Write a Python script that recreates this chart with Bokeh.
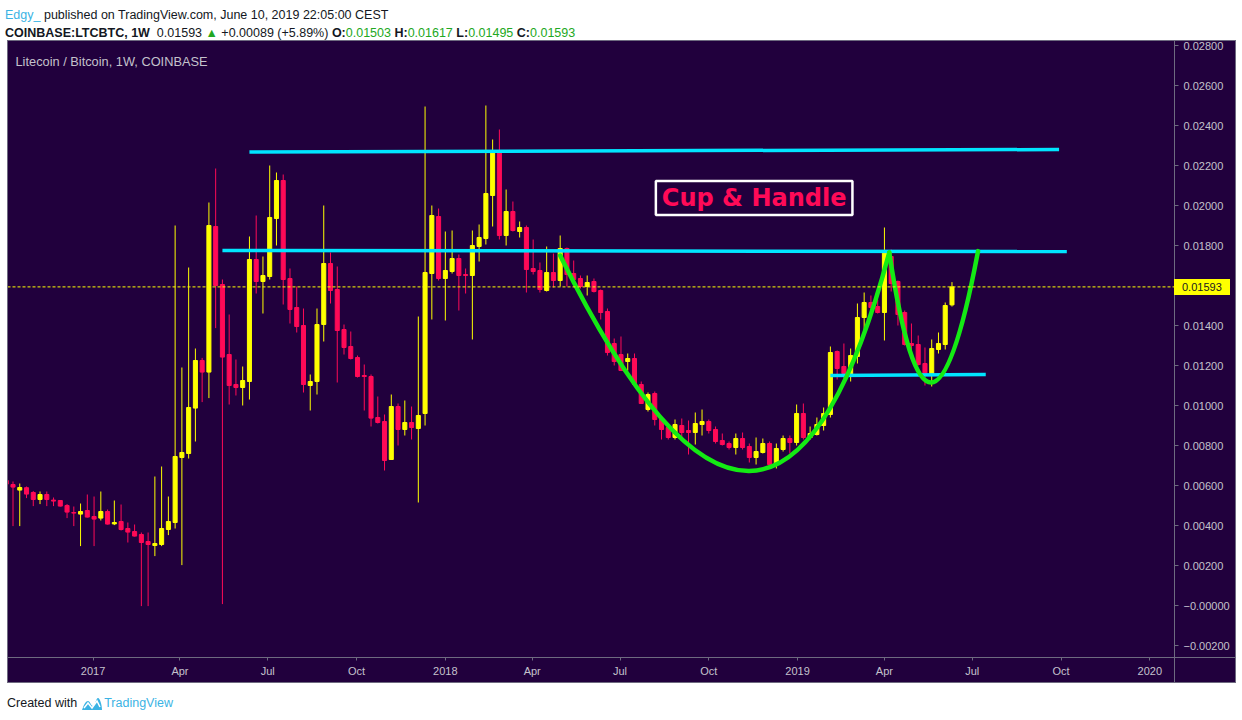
import pandas as pd
from bokeh.plotting import figure
from bokeh.models import (ColumnDataSource, Range1d, FixedTicker, CustomJSTickFormatter,
                          Label, Span, Div, Spacer)
from bokeh.layouts import column, row
from bokeh.embed import file_html
from bokeh.resources import INLINE

# ---------------- data (weekly candles, COINBASE:LTCBTC) ----------------
first_week = "2016-10-03"

opens = [
    0.00625,
    0.00605, 0.00577, 0.00589, 0.00565, 0.00530, 0.00555, 0.00527, 0.00525, 0.00500, 0.00465,
    0.00457, 0.00475, 0.00445, 0.00437, 0.00470, 0.00408, 0.00420, 0.00385, 0.00370, 0.00355,
    0.00320, 0.00300, 0.00305, 0.00380, 0.00415, 0.00740, 0.00760, 0.00987, 0.01225, 0.01167,
    0.01895, 0.01605, 0.01255, 0.01105, 0.01090, 0.01120, 0.01730, 0.01620, 0.01645, 0.01935,
    0.02125, 0.01635, 0.01490, 0.01400, 0.01100, 0.01120, 0.01405, 0.01710, 0.01580, 0.01380,
    0.01295, 0.01240, 0.01150, 0.01145, 0.00940, 0.00920, 0.00730, 0.00995, 0.00880, 0.00915,
    0.00885, 0.00960, 0.01660, 0.01945, 0.01635, 0.01670, 0.01735, 0.01655, 0.01650, 0.01795,
    0.01835, 0.02050, 0.02270, 0.01850, 0.01970, 0.01870, 0.01890, 0.01685, 0.01675, 0.01575,
    0.01665, 0.01625, 0.01785, 0.01660, 0.01635, 0.01595, 0.01620, 0.01575, 0.01470, 0.01310,
    0.01255, 0.01220, 0.01235, 0.01105, 0.00980, 0.01060, 0.00935, 0.00890, 0.00840, 0.00900,
    0.00875, 0.00865, 0.00905, 0.00920, 0.00880, 0.00825, 0.00810, 0.00790, 0.00835, 0.00795,
    0.00740, 0.00765, 0.00810, 0.00710, 0.00780, 0.00835, 0.00815, 0.00960, 0.00840, 0.00855,
    0.00900, 0.00955, 0.01270, 0.01195, 0.01150, 0.01245, 0.01440, 0.01515, 0.01495, 0.01465,
    0.01745, 0.01620, 0.01465, 0.01310, 0.01305, 0.01210, 0.01155, 0.01280, 0.01305, 0.01503,
]
highs = [
    0.00630,
    0.00620, 0.00610, 0.00595, 0.00572, 0.00570, 0.00570, 0.00540, 0.00527, 0.00507, 0.00495,
    0.00510, 0.00555, 0.00545, 0.00570, 0.00480, 0.00525, 0.00505, 0.00415, 0.00405, 0.00365,
    0.00365, 0.00645, 0.00695, 0.00545, 0.01900, 0.01190, 0.01690, 0.01285, 0.01238, 0.02015,
    0.02185, 0.01630, 0.01455, 0.01230, 0.01195, 0.01845, 0.01950, 0.01745, 0.02200, 0.02165,
    0.02155, 0.01685, 0.01595, 0.01485, 0.01155, 0.01485, 0.02000, 0.01765, 0.01695, 0.01405,
    0.01370, 0.01250, 0.01205, 0.01155, 0.01045, 0.00955, 0.01055, 0.01010, 0.01025, 0.00995,
    0.01445, 0.02495, 0.02000, 0.01985, 0.01870, 0.01875, 0.01755, 0.01685, 0.01875, 0.01905,
    0.02500, 0.02330, 0.02380, 0.02080, 0.02020, 0.01920, 0.01900, 0.01830, 0.01715, 0.01795,
    0.01760, 0.01850, 0.01790, 0.01725, 0.01650, 0.01650, 0.01635, 0.01580, 0.01485, 0.01335,
    0.01345, 0.01260, 0.01260, 0.01120, 0.01065, 0.01070, 0.00940, 0.00910, 0.00930, 0.00935,
    0.00925, 0.00965, 0.00980, 0.00930, 0.00895, 0.00860, 0.00820, 0.00860, 0.00865, 0.00810,
    0.00840, 0.00835, 0.00820, 0.00810, 0.00850, 0.00850, 0.01005, 0.01010, 0.00895, 0.00940,
    0.00990, 0.01295, 0.01275, 0.01310, 0.01285, 0.01510, 0.01565, 0.01550, 0.01530, 0.01890,
    0.01780, 0.01625, 0.01475, 0.01410, 0.01350, 0.01290, 0.01330, 0.01365, 0.01515, 0.01617,
]
lows = [
    0.00600,
    0.00397, 0.00397, 0.00537, 0.00497, 0.00507, 0.00497, 0.00497, 0.00495, 0.00437, 0.00397,
    0.00297, 0.00440, 0.00297, 0.00425, 0.00405, 0.00402, 0.00375, 0.00315, 0.00345, -0.00003,
    -0.00003, 0.00247, 0.00297, 0.00352, 0.00385, 0.00202, 0.00735, 0.00820, 0.01017, 0.01037,
    0.01387, 0.00007, 0.01005, 0.01050, 0.01000, 0.01030, 0.01560, 0.01460, 0.01630, 0.01800,
    0.01505, 0.01410, 0.01365, 0.01065, 0.00975, 0.01055, 0.01320, 0.01510, 0.01115, 0.01255,
    0.01230, 0.01140, 0.00975, 0.00895, 0.00910, 0.00675, 0.00730, 0.00800, 0.00850, 0.00830,
    0.00515, 0.00900, 0.01430, 0.01625, 0.01425, 0.01660, 0.01475, 0.01560, 0.01330, 0.01720,
    0.01805, 0.01895, 0.01830, 0.01800, 0.01870, 0.01840, 0.01565, 0.01655, 0.01565, 0.01570,
    0.01590, 0.01595, 0.01595, 0.01595, 0.01585, 0.01550, 0.01565, 0.01430, 0.01250, 0.01200,
    0.01175, 0.01175, 0.01100, 0.01010, 0.00970, 0.00900, 0.00830, 0.00830, 0.00830, 0.00840,
    0.00755, 0.00805, 0.00850, 0.00860, 0.00810, 0.00800, 0.00780, 0.00755, 0.00780, 0.00715,
    0.00705, 0.00760, 0.00695, 0.00685, 0.00770, 0.00760, 0.00800, 0.00830, 0.00830, 0.00850,
    0.00875, 0.00940, 0.01130, 0.01130, 0.01120, 0.01210, 0.01370, 0.01475, 0.01460, 0.01325,
    0.01570, 0.01400, 0.01300, 0.01250, 0.01200, 0.01100, 0.01095, 0.01260, 0.01280, 0.01495,
]
closes = [
    0.00607,
    0.00592, 0.00590, 0.00557, 0.00530, 0.00555, 0.00530, 0.00522, 0.00497, 0.00467, 0.00462,
    0.00470, 0.00442, 0.00432, 0.00470, 0.00407, 0.00415, 0.00380, 0.00367, 0.00347, 0.00315,
    0.00305, 0.00310, 0.00385, 0.00420, 0.00745, 0.00765, 0.00990, 0.01225, 0.01167, 0.01900,
    0.01600, 0.01242, 0.01100, 0.01090, 0.01125, 0.01730, 0.01620, 0.01650, 0.01940, 0.02125,
    0.01630, 0.01480, 0.01395, 0.01105, 0.01120, 0.01405, 0.01710, 0.01575, 0.01375, 0.01290,
    0.01235, 0.01145, 0.01145, 0.00937, 0.00915, 0.00725, 0.00995, 0.00880, 0.00915, 0.00890,
    0.00950, 0.01665, 0.01950, 0.01635, 0.01675, 0.01735, 0.01650, 0.01650, 0.01800, 0.01840,
    0.02060, 0.02270, 0.01850, 0.01970, 0.01875, 0.01890, 0.01680, 0.01670, 0.01580, 0.01665,
    0.01625, 0.01785, 0.01655, 0.01630, 0.01595, 0.01615, 0.01570, 0.01465, 0.01265, 0.01220,
    0.01175, 0.01235, 0.01105, 0.01010, 0.01055, 0.00930, 0.00880, 0.00840, 0.00905, 0.00865,
    0.00865, 0.00910, 0.00920, 0.00875, 0.00820, 0.00805, 0.00790, 0.00835, 0.00790, 0.00740,
    0.00770, 0.00810, 0.00705, 0.00785, 0.00835, 0.00815, 0.00960, 0.00840, 0.00860, 0.00905,
    0.00960, 0.01265, 0.01185, 0.01160, 0.01250, 0.01440, 0.01515, 0.01490, 0.01465, 0.01765,
    0.01610, 0.01455, 0.01305, 0.01300, 0.01205, 0.01155, 0.01285, 0.01310, 0.01500, 0.01593,
]

last_price = 0.01593
price_ticks = [-0.002, 0.0, 0.002, 0.004, 0.006, 0.008, 0.010, 0.012, 0.014,
               0.016, 0.018, 0.020, 0.022, 0.024, 0.026, 0.028]
time_ticks = ["2017-01-01", "2017-04-01", "2017-07-01", "2017-10-01",
              "2018-01-01", "2018-04-01", "2018-07-01", "2018-10-01",
              "2019-01-01", "2019-04-01", "2019-07-01", "2019-10-01", "2020-01-01"]

# drawn trend lines (cyan)
hline_x0 = ["2017-06-12", "2017-05-15", "2019-02-04"]
hline_y0 = [0.02268, 0.01775, 0.01150]
hline_x1 = ["2019-09-29", "2019-10-07", "2019-07-15"]
hline_y1 = [0.02280, 0.01770, 0.01155]

# drawn curves (green): cup and handle
curve_x0 = ["2018-04-30", "2019-04-06"]
curve_y0 = [0.01750, 0.01765]
curve_cx = ["2018-12-07", "2019-05-17"]
curve_cy = [-0.004125, 0.00461]
curve_x1 = ["2019-04-06", "2019-07-07"]
curve_y1 = [0.01765, 0.01772]

note_text = "Cup & Handle"
note_x = "2018-11-17"
note_y = 0.020375

# ---------------- styling ----------------
BG = "#21003d"
UP = "#ffff00"
DOWN = "#ff0a57"
CYAN = "#00e5ff"
GREEN = "#14ea14"
GREY = "#6e6a80"
LABEL = "#c4c2cc"


def ms(d):
    return pd.Timestamp(d).value / 1e6


dates = pd.date_range(first_week, periods=len(opens), freq="7D")
xs = [ts.value / 1e6 for ts in dates]
DAY = 86400000.0

up = dict(x=[], top=[], bottom=[], high=[], low=[])
dn = dict(x=[], top=[], bottom=[], high=[], low=[])
for x, o, h, l, c in zip(xs, opens, highs, lows, closes):
    d = up if c >= o else dn
    d["x"].append(x)
    d["top"].append(max(o, c))
    d["bottom"].append(min(o, c))
    d["high"].append(h)
    d["low"].append(l)

p = figure(width=1229, height=643, x_axis_type="datetime", y_axis_location="right",
           title=None, output_backend="svg", toolbar_location=None,
           x_range=Range1d(ms("2016-10-04 07:00"), ms("2020-01-26 14:00")),
           y_range=Range1d(-0.0026, 0.02825),
           min_border_left=0, min_border_right=62, min_border_top=0, min_border_bottom=26,
           background_fill_color=BG, border_fill_color=BG)
p.grid.visible = False
p.outline_line_color = GREY
p.outline_line_width = 1

for src, col in ((up, UP), (dn, DOWN)):
    s = ColumnDataSource(src)
    p.segment(x0="x", y0="low", x1="x", y1="high", source=s, line_color=col, line_width=1)
    p.vbar(x="x", width=4.2 * DAY, top="top", bottom="bottom", source=s,
           fill_color=col, line_color=col, line_width=1)

# current price line
p.add_layout(Span(location=last_price, dimension="width", line_color=UP,
                  line_dash="3 2", line_width=1))

# trend lines
p.segment(x0=[ms(d) for d in hline_x0], y0=hline_y0,
          x1=[ms(d) for d in hline_x1], y1=hline_y1,
          line_color=CYAN, line_width=3.5)

# cup & handle curves
p.quadratic(x0=[ms(d) for d in curve_x0], y0=curve_y0,
            x1=[ms(d) for d in curve_x1], y1=curve_y1,
            cx=[ms(d) for d in curve_cx], cy=curve_cy,
            line_color=GREEN, line_width=4.5, line_cap="round")

# note box
p.add_layout(Label(x=ms(note_x), y=note_y, text=note_text, text_align="center",
                   text_baseline="middle", text_font="DejaVu Sans",
                   text_font_style="bold", text_font_size="24px", text_color=DOWN,
                   border_line_color="white", border_line_width=2.5, padding=(6, 3)))

# symbol title
p.add_layout(Label(x=8, y=596, x_units="screen", y_units="screen",
                   text="Litecoin / Bitcoin, 1W, COINBASE", text_baseline="middle",
                   text_font="Liberation Sans", text_font_size="12.8px",
                   text_color=LABEL))

# axes
ya = p.yaxis[0]
ya.ticker = FixedTicker(ticks=price_ticks)
ya.formatter = CustomJSTickFormatter(code="""
if (Math.abs(tick) < 1e-9) { return "\u22120.00000"; }
return (tick < 0 ? "\u2212" : "") + Math.abs(tick).toFixed(5);
""")
ya.axis_line_color = GREY
ya.major_tick_line_color = GREY
ya.major_tick_out = 4
ya.major_tick_in = 0
ya.minor_tick_line_color = None
ya.major_label_standoff = 5
ya.major_label_text_font = "Liberation Sans"
ya.major_label_text_font_size = "11px"
ya.major_label_text_color = LABEL

xa = p.xaxis[0]
xa.ticker = FixedTicker(ticks=[ms(d) for d in time_ticks])
xa.formatter = CustomJSTickFormatter(code="""
const d = new Date(tick);
const m = d.getUTCMonth();
const names = ["Jan","Feb","Mar","Apr","May","Jun","Jul","Aug","Sep","Oct","Nov","Dec"];
return m === 0 ? String(d.getUTCFullYear()) : names[m];
""")
xa.axis_line_color = GREY
xa.major_tick_line_color = GREY
xa.major_tick_out = 3
xa.major_tick_in = 0
xa.minor_tick_line_color = None
xa.major_label_standoff = 4
xa.major_label_text_font = "Liberation Sans"
xa.major_label_text_font_size = "11px"
xa.major_label_text_color = LABEL

GRN = "#22a822"
header_html = (
    '<div style="font-family:\'Liberation Sans\',Arial,sans-serif;font-size:12.5px;'
    'color:#131722;white-space:nowrap;padding:8px 0 0 5px;">'
    '<div style="line-height:14px;height:14px;">'
    '<span style="color:#3bb3e4">Edgy_</span> published on TradingView.com, June 10, 2019 22:05:00 CEST</div>'
    '<div style="line-height:14px;height:14px;margin-top:4px;">'
    '<b>COINBASE:LTCBTC, 1W</b>&nbsp; 0.01593 '
    '<span style="color:' + GRN + '">&#9650;</span> +0.00089 (+5.89%) '
    '<b>O:</b><span style="color:' + GRN + '">0.01503</span> '
    '<b>H:</b><span style="color:' + GRN + '">0.01617</span> '
    '<b>L:</b><span style="color:' + GRN + '">0.01495</span> '
    '<b>C:</b><span style="color:' + GRN + '">0.01593</span></div></div>'
)
header = Div(text=header_html, width=1242, height=40, margin=(0, 0, 0, 0))

footer_html = (
    '<div style="font-family:\'Liberation Sans\',Arial,sans-serif;font-size:12.5px;'
    'color:#131722;white-space:nowrap;padding:12px 0 0 7px;line-height:16px;display:flex;align-items:center;">'
    '<span>Created with</span>'
    '<svg width="22" height="15" viewBox="0 0 22 15" style="margin:0 1px 0 4px;">'
    '<path d="M1 14 C3 8 5 5 7 5 C9 5 10 10 12 10 C14 10 15 2 17 2 C19 2 21 9 21 14 Z" fill="#3bb3e4"/>'
    '<path d="M3 12 L7 7 L11 12 L16 5 L19 11" stroke="#fff" stroke-width="1.5" fill="none"/></svg>'
    '<span style="color:#3bb3e4">TradingView</span></div>'
)
footer = Div(text=footer_html, width=1242, height=36, margin=(0, 0, 0, 0))

# last-price badge sitting on the price scale
badge = Div(
    text='<div style="background:#ffff00;color:#202020;font-family:\'Liberation Sans\',Arial,sans-serif;'
         'font-size:11px;width:56px;height:16px;line-height:16px;padding-left:8px;'
         'box-sizing:border-box;">0.01593</div>',
    width=56, height=16, margin=(0, 0, 0, 0),
    styles={"position": "absolute", "left": "1174px", "top": "279px", "z-index": "10"})

# chart box border + scale separators
box = Div(
    text='<div style="position:relative;width:1229px;height:643px;pointer-events:none;">'
         '<div style="position:absolute;left:0;top:0;width:1229px;height:643px;'
         'border:1px solid ' + GREY + ';box-sizing:border-box;"></div>'
         '<div style="position:absolute;left:1167px;top:617px;width:1px;height:26px;'
         'background:' + GREY + ';"></div>'
         '<div style="position:absolute;left:1167px;top:617px;width:62px;height:1px;'
         'background:' + GREY + ';"></div></div>',
    width=1229, height=643, margin=(0, 0, 0, 0),
    styles={"position": "absolute", "left": "7px", "top": "40px", "z-index": "5",
            "pointer-events": "none"})

layout = column(header, row(Spacer(width=7, height=643), p, spacing=0), footer, badge, box,
                spacing=0)
open("out.html", "w").write(file_html(layout, INLINE))
